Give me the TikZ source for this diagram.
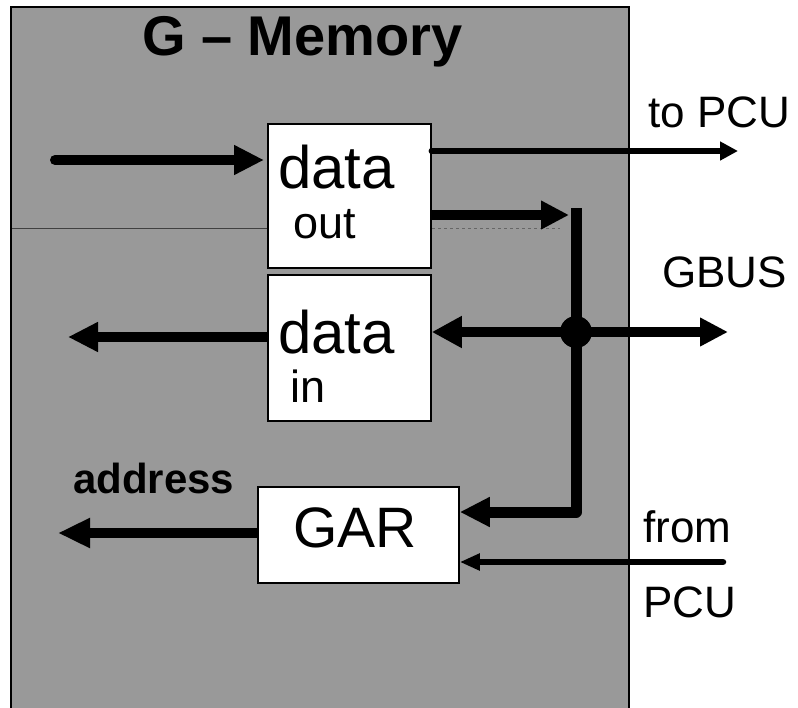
\documentclass[tikz,border=0pt]{standalone}
\usepackage{fontspec}
\setmainfont{Liberation Sans}
\usetikzlibrary{arrows.meta}
\tikzset{
  panel/.style={fill=black!40, draw=black, line width=2.2pt},
  unit/.style={draw=black, fill=white, line width=1.8pt, rectangle, inner sep=0pt, anchor=north west},
  lbl/.style={inner sep=0pt, anchor=base west},
  bigtxt/.style={lbl, font=\fontsize{60}{62}\selectfont},
  subtxt/.style={lbl, font=\fontsize{45}{48}\selectfont},
  sidetxt/.style={lbl, font=\fontsize{44}{48}\selectfont},
  wire/.style={line width=10pt, -{Triangle[length=30pt,width=28pt]}},
  thinwire/.style={line width=6.5pt, line cap=round, -{Triangle[length=18pt,width=18pt]}},
  fold/.style={black!75, line width=1pt},
}
\begin{document}
\begin{tikzpicture}[x=1pt,y=-1pt]
\useasboundingbox (0,0) rectangle (798,707);
\fill[white] (0,0) rectangle (798,707);

% memory panel
\draw[panel] (11,7) rectangle (629,714);
\draw[fold] (12,228) -- (267,228);
\draw[fold, dashed, black!60] (432,228) -- (560,228);

\node[lbl, font=\bfseries\fontsize{56}{58}\selectfont] (title) at (142,55) {G – Memory};

% units
\node[unit, minimum width=163pt, minimum height=144pt] (dout) at (267,123) {};
\node[unit, minimum width=163pt, minimum height=146pt] (din) at (267,274) {};
\node[unit, minimum width=201pt, minimum height=96pt] (gar) at (257,486) {};

\node[bigtxt] (doutA) at (278,188) {data};
\node[subtxt] (doutB) at (293,238) {out};
\node[bigtxt] (dinA) at (278,353) {data};
\node[subtxt] (dinB) at (290,402) {in};
\node[lbl, font=\fontsize{57}{60}\selectfont] (garT) at (293,547) {GAR};

% free ends of the connectors
\coordinate (inL) at (55,160);
\coordinate (toPCU) at (738,151);
\coordinate (busIn) at (569,215);
\coordinate (busTop) at (576,208);
\coordinate (busBot) at (576,512);
\coordinate (gbus) at (728,332);
\coordinate (dinOut) at (68,337);
\coordinate (addrOut) at (58,533);
\coordinate (fromPCU) at (723,562);

% connectors
\draw[wire, line cap=round, shorten >=3pt] (inL) -- (inL -| dout.west);
\draw[thinwire] (toPCU -| dout.east) -- (toPCU);
\draw[wire, -{Triangle[length=28pt,width=27pt]}] (busIn -| dout.east) -- (busIn);
\draw[line width=11pt, line join=round, -{Triangle[length=30pt,width=28pt]}]
  (busTop) -- (busBot) -- (busBot -| gar.east);
\draw[line width=10pt, {Triangle[length=30pt,width=30pt]}-{Triangle[length=28pt,width=27pt]}]
  (gbus -| din.east) -- (gbus);
\node[circle, fill=black, minimum size=32pt, inner sep=0pt] (junc) at (busTop |- gbus) {};
\draw[wire] (din.west |- dinOut) -- (dinOut);
\draw[wire, -{Triangle[length=32pt,width=28pt]}] (gar.west |- addrOut) -- (addrOut);
\draw[line width=6.5pt, line cap=round, -{Triangle[length=20pt,width=16pt]}] (fromPCU) -- (fromPCU -| gar.east);

% labels
\node[lbl, font=\bfseries\fontsize{42}{45}\selectfont] (addr) at (73,493) {address};
\node[sidetxt] (toLbl) at (648,127) {to PCU};
\node[sidetxt] (gbusLbl) at (662,287) {GBUS};
\node[sidetxt] (fromLbl) at (643,542) {from};
\node[sidetxt] (pcuLbl) at (643,617) {PCU};
\end{tikzpicture}
\end{document}
